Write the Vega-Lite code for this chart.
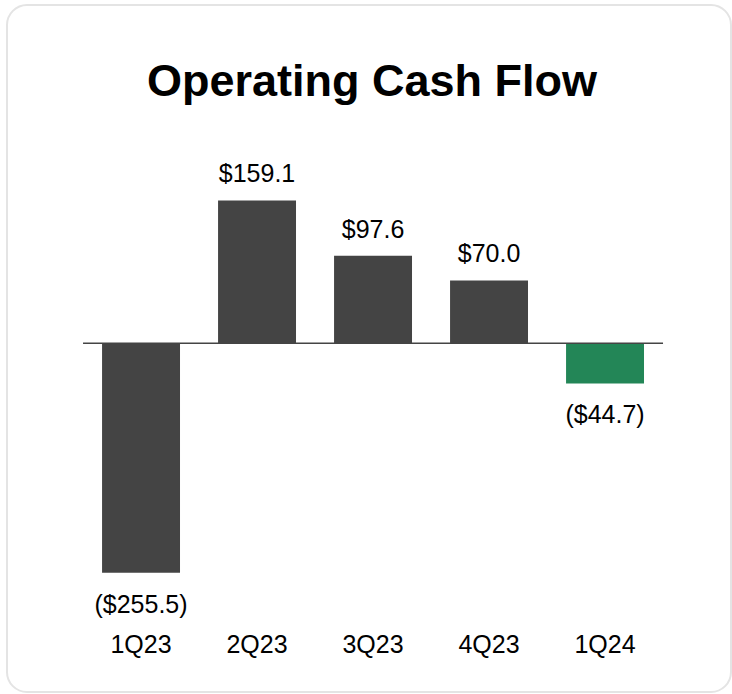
{
  "$schema": "https://vega.github.io/schema/vega-lite/v6.json",
  "autosize": {"type": "none"},
  "padding": {"left": 7, "top": 5, "right": 1, "bottom": 2},
  "width": 724,
  "height": 687,
  "background": "white",
  "config": {
    "view": {"stroke": "#e4e4e4", "strokeWidth": 2, "cornerRadius": 20},
    "font": "Liberation Sans"
  },
  "title": {
    "text": "Operating Cash Flow",
    "font": "Liberation Sans",
    "fontSize": 45,
    "fontWeight": "bold",
    "color": "#000000",
    "anchor": "middle",
    "baseline": "alphabetic",
    "offset": -136,
    "dx": 3
  },
  "data": {
    "values": [
      {"quarter": "1Q23", "value": -255.5, "label": "($255.5)"},
      {"quarter": "2Q23", "value": 159.1, "label": "$159.1"},
      {"quarter": "3Q23", "value": 97.6, "label": "$97.6"},
      {"quarter": "4Q23", "value": 70.0, "label": "$70.0"},
      {"quarter": "1Q24", "value": -44.7, "label": "($44.7)"}
    ]
  },
  "encoding": {
    "x": {
      "field": "quarter",
      "type": "nominal",
      "sort": null,
      "scale": {"paddingInner": 0, "paddingOuter": 0.6207, "align": 0.528},
      "axis": {
        "title": null,
        "domain": false,
        "ticks": false,
        "tickSize": 0,
        "labelPadding": 0,
        "labelBaseline": "alphabetic",
        "labelAngle": 0,
        "labelFontSize": 25,
        "labelColor": "#000000",
        "labelFont": "Liberation Sans",
        "offset": -40,
        "grid": false
      }
    }
  },
  "layer": [
    {
      "mark": {"type": "bar", "width": {"band": 0.672}},
      "encoding": {
        "y": {
          "field": "value",
          "type": "quantitative",
          "scale": {"domain": [-388.3, 376.7], "nice": false, "zero": false},
          "axis": null
        },
        "color": {
          "condition": {"test": "datum.quarter === '1Q24'", "value": "#238657"},
          "value": "#444444"
        }
      }
    },
    {
      "data": {"values": [{"start": "1Q23", "end": "1Q24", "zero": 0}]},
      "mark": {"type": "rule", "color": "#444444", "strokeWidth": 1.6},
      "encoding": {
        "x": {"field": "start", "type": "nominal", "bandPosition": 0},
        "x2": {"field": "end", "bandPosition": 1},
        "y": {"field": "zero", "type": "quantitative"}
      }
    },
    {
      "transform": [{"filter": "datum.value > 0"}],
      "mark": {"type": "text", "baseline": "alphabetic", "align": "center", "dy": -18, "fontSize": 25, "font": "Liberation Sans", "color": "#000000"},
      "encoding": {
        "y": {"field": "value", "type": "quantitative"},
        "text": {"field": "label"}
      }
    },
    {
      "transform": [{"filter": "datum.value < 0"}],
      "mark": {"type": "text", "baseline": "alphabetic", "align": "center", "dy": 40, "fontSize": 25, "font": "Liberation Sans", "color": "#000000"},
      "encoding": {
        "y": {"field": "value", "type": "quantitative"},
        "text": {"field": "label"}
      }
    }
  ]
}
